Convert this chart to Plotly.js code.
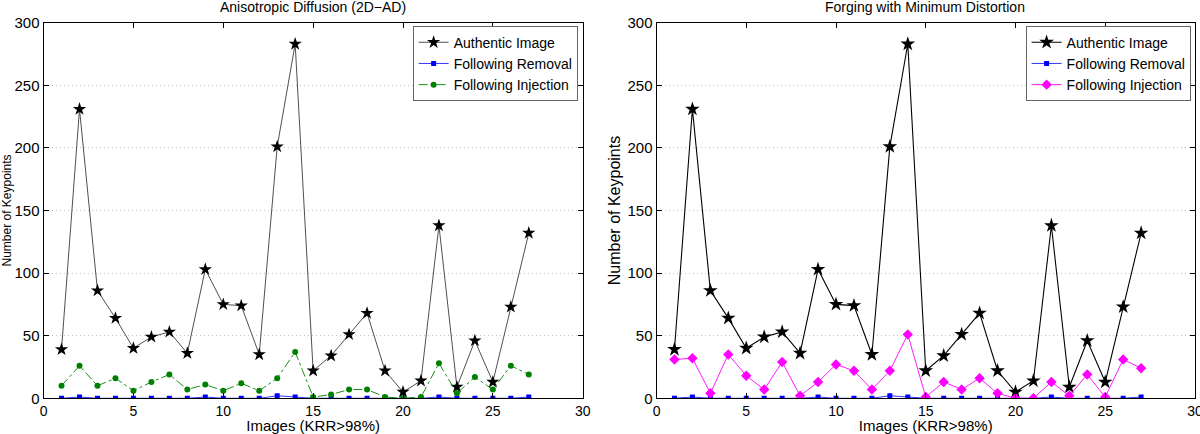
<!DOCTYPE html>
<html>
<head>
<meta charset="utf-8">
<script src="https://cdn.plot.ly/plotly-3.0.1.min.js"></script>
<style>
  html, body { margin: 0; padding: 0; background: #fff; }
  #chart { width: 1200px; height: 434px; }
</style>
</head>
<body>
<div id="chart"></div>
<script>
var images = [1, 2, 3, 4, 5, 6, 7, 8, 9, 10, 11, 12, 13, 14, 15, 16, 17, 18, 19, 20, 21, 22, 23, 24, 25, 26, 27];

var authentic = [39, 231, 86, 64, 40, 49, 53, 36, 103, 75, 74, 35, 201, 283, 22, 34, 51, 68, 22, 5, 14, 138, 9, 46, 13, 73, 132];
var removal = [0, 1, 0, 0, 0, 0, 0, 0, 1, 0, 0, 0, 2, 1, 0, 0, 0, 0, 0, 0, 0, 1, 0, 0, 0, 0, 1];
var injectionAD = [10, 26, 10, 16, 6, 13, 19, 7, 11, 6, 12, 6, 16, 37, 1, 3, 7, 7, 1, 0, 1, 28, 4, 17, 7, 26, 19];
var injectionMin = [31, 32, 4, 35, 18, 7, 29, 2, 13, 27, 22, 7, 22, 51, 1, 13, 7, 16, 4, 0, 0, 13, 2, 19, 1, 31, 24];

var titleLeft = 'Anisotropic Diffusion (2D\u2212AD)';
var titleRight = 'Forging with Minimum Distortion';

var font = 'Liberation Sans, Arial, Helvetica, sans-serif';

var data = [
    {
        x: images, y: authentic, name: 'Authentic Image',
        xaxis: 'x', yaxis: 'y', legend: 'legend',
        mode: 'lines+markers',
        line: { color: '#222', width: 0.8 },
        marker: { symbol: 'star', size: 10, color: '#000' }
    },
    {
        x: images, y: removal, name: 'Following Removal',
        xaxis: 'x', yaxis: 'y', legend: 'legend',
        mode: 'lines+markers',
        line: { color: '#0000ff', width: 0.8 },
        marker: { symbol: 'square', size: 5, color: '#0000ff' }
    },
    {
        x: images, y: injectionAD, name: 'Following Injection',
        xaxis: 'x', yaxis: 'y', legend: 'legend',
        mode: 'lines+markers',
        line: { color: '#008000', width: 0.9, dash: 'dashdot' },
        marker: { symbol: 'circle', size: 6, color: '#008000' }
    },
    {
        x: images, y: authentic, name: 'Authentic Image',
        xaxis: 'x2', yaxis: 'y2', legend: 'legend2',
        mode: 'lines+markers',
        line: { color: '#000', width: 1.1 },
        marker: { symbol: 'star', size: 11, color: '#000' }
    },
    {
        x: images, y: removal, name: 'Following Removal',
        xaxis: 'x2', yaxis: 'y2', legend: 'legend2',
        mode: 'lines+markers',
        line: { color: '#0000ff', width: 0.8 },
        marker: { symbol: 'square', size: 5, color: '#0000ff' }
    },
    {
        x: images, y: injectionMin, name: 'Following Injection',
        xaxis: 'x2', yaxis: 'y2', legend: 'legend2',
        mode: 'lines+markers',
        line: { color: '#ff00ff', width: 0.9 },
        marker: { symbol: 'diamond', size: 8, color: '#ff00ff' }
    }
];

function xAxis(dom, anchor) {
    return {
        domain: dom, anchor: anchor, range: [0, 30], dtick: 5,
        showline: true, linecolor: '#000', linewidth: 1, mirror: 'ticks',
        ticks: 'inside', ticklen: 5, tickcolor: '#000',
        showgrid: false, zeroline: false,
        ticklabeloverflow: 'allow',
        tickfont: { size: 14, color: '#000' },
        title: { text: 'Images (KRR>98%)', font: { size: 15, color: '#000' }, standoff: 4 }
    };
}

function yAxis(anchor, titleSize) {
    return {
        domain: [0.0823, 0.9477], anchor: anchor, range: [0, 300], dtick: 50,
        showline: true, linecolor: '#000', linewidth: 1, mirror: 'ticks',
        ticks: 'inside', ticklen: 5, tickcolor: '#000',
        showgrid: true, gridcolor: '#c4c4c4', griddash: '1px,3px', gridwidth: 1,
        zeroline: false,
        tickfont: { size: 15, color: '#000' },
        title: { text: 'Number of Keypoints', font: { size: titleSize, color: '#000' }, standoff: 2 }
    };
}

var legendStyle = {
    bgcolor: '#fff', bordercolor: '#000', borderwidth: 0.6,
    font: { size: 14, color: '#000' },
    xanchor: 'right', yanchor: 'top', y: 0.94,
    tracegroupgap: 0, itemwidth: 30
};

var layout = {
    width: 1200, height: 434,
    margin: { l: 0, r: 0, t: 0, b: 0 },
    paper_bgcolor: '#fff', plot_bgcolor: '#fff',
    font: { family: font, color: '#000' },
    showlegend: true,
    xaxis: xAxis([0.0363, 0.4856], 'y'),
    yaxis: yAxis('x', 12),
    xaxis2: xAxis([0.5471, 0.9958], 'y2'),
    yaxis2: yAxis('x2', 16),
    legend: Object.assign({}, legendStyle, { x: 0.4817 }),
    legend2: Object.assign({}, legendStyle, { x: 0.9925 }),
    annotations: [
        { text: titleLeft, xref: 'paper', yref: 'paper', x: 0.261, y: 0.984, xanchor: 'center', yanchor: 'middle', showarrow: false, font: { size: 14, color: '#000' } },
        { text: titleRight, xref: 'paper', yref: 'paper', x: 0.771, y: 0.984, xanchor: 'center', yanchor: 'middle', showarrow: false, font: { size: 14, color: '#000' } }
    ]
};

Plotly.newPlot('chart', data, layout, { displayModeBar: false });
</script>
</body>
</html>
